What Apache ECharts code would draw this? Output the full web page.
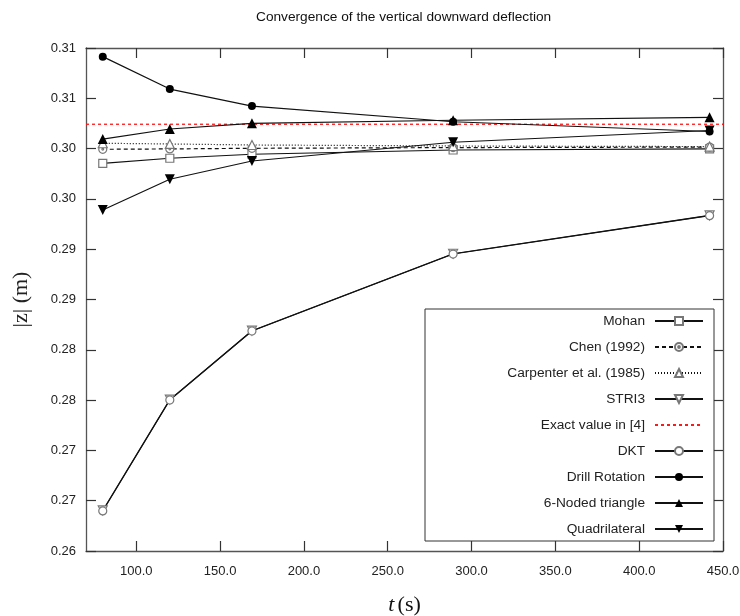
<!DOCTYPE html>
<html><head><meta charset="utf-8">
<script src="https://cdn.jsdelivr.net/npm/echarts@6/dist/echarts.min.js"></script>
<style>html,body{margin:0;padding:0;background:#fff}#c{width:740px;height:616px}</style>
</head><body><div id="c"></div>
<script>
// ---- data ----
const xValues = [80, 120, 169, 289, 442];
const mohan      = [0.29854, 0.29904, 0.29944, 0.29986, 0.29998];
const chen       = [0.29993, 0.29997, 0.30003, 0.30010, 0.30015];
const carpenter  = [0.30053, 0.30046, 0.30036, 0.30026, 0.30020];
const stri3      = [0.26403, 0.27505, 0.28190, 0.28955, 0.29336];
const exactValue = 0.30242;
const exactX     = [70, 450];
const dkt        = [0.26398, 0.27501, 0.28187, 0.28952, 0.29333];
const drill      = [0.30914, 0.30592, 0.30423, 0.30267, 0.30170];
const sixNoded   = [0.30095, 0.30195, 0.30251, 0.30282, 0.30311];
const quad       = [0.29390, 0.29695, 0.29877, 0.30063, 0.30180];

const xTickValues = [100, 150, 200, 250, 300, 350, 400, 450];
const xTickLabels = ['100.0','150.0','200.0','250.0','300.0','350.0','400.0','450.0'];
const yTickLabels = ['0.26','0.27','0.27','0.28','0.28','0.29','0.29','0.30','0.30','0.31','0.31'];

const FONT = 'Liberation Sans, Arial, sans-serif';
const SERIF = 'Liberation Serif, Times New Roman, serif';
const pair = (ys) => xValues.map((x, i) => [x, ys[i]]);
const dotCircle = 'path://M0,-5A5,5 0 1,1 0,5A5,5 0 1,1 0,-5ZM0,-1.1A1.1,1.1 0 1,1 0,1.1A1.1,1.1 0 1,1 0,-1.1Z';

function lineSeries(name, ys, symbol, opts) {
  opts = opts || {};
  return {
    name, type: 'line', data: pair(ys),
    symbol: symbol, symbolSize: opts.size || 8, symbolRotate: opts.rotate || 0,
    showSymbol: true,
    lineStyle: { color: '#111', width: 1.2, type: opts.dash || 'solid' },
    itemStyle: opts.hollow
      ? { color: '#fff', borderColor: '#777', borderWidth: 1.2 }
      : { color: '#000', borderColor: '#000', borderWidth: 0 },
    emphasis: { disabled: true },
    animation: false, z: opts.z || 3
  };
}

const series = [
  lineSeries('Mohan', mohan, 'rect', { hollow: true, size: 8 }),
  lineSeries('Chen (1992)', chen, dotCircle, { hollow: true, size: 8, dash: [4, 3] }),
  lineSeries('Carpenter et al. (1985)', carpenter, 'triangle', { hollow: true, size: 9, dash: [1, 2] }),
  lineSeries('STRI3', stri3, 'triangle', { hollow: true, size: 9, rotate: 180 }),
  {
    name: 'Exact value in [4]', type: 'line',
    data: exactX.map(x => [x, exactValue]),
    symbol: 'none', showSymbol: false,
    lineStyle: { color: '#ff1a1a', width: 1.3, type: [3, 3] },
    itemStyle: { color: 'rgba(255,255,255,0)', borderWidth: 0 },
    emphasis: { disabled: true }, animation: false, z: 2
  },
  lineSeries('DKT', dkt, 'circle', { hollow: true, size: 8 }),
  lineSeries('Drill Rotation', drill, 'circle', { size: 8 }),
  lineSeries('6-Noded triangle', sixNoded, 'triangle', { size: 10 }),
  lineSeries('Quadrilateral', quad, 'triangle', { size: 10, rotate: 180 })
];

const frame = { show: true, onZero: false, lineStyle: { color: '#555', width: 1.3 } };
const tick = { show: true, inside: true, length: 10, lineStyle: { color: '#333', width: 1.2 } };

const option = {
  backgroundColor: '#fff',
  animation: false,
  title: {
    text: 'Convergence of the vertical downward deflection',
    left: 256, top: 10, padding: 0,
    textStyle: { fontSize: 13.7, fontWeight: 'normal', color: '#111', fontFamily: FONT }
  },
  grid: { left: 86, right: 17, top: 48, bottom: 65, containLabel: false, outerBoundsMode: 'none' },
  legend: {
    orient: 'vertical', left: 425, top: 309, align: 'right',
    itemWidth: 48, itemHeight: 10, itemGap: 12, itemTextGap: 10,
    padding: [5, 10, 5, 20],
    borderColor: '#333', borderWidth: 1, backgroundColor: '#fff',
    formatter: n => '{a|' + n + '}',
    textStyle: { rich: { a: { width: 200, align: 'right', padding: [0, 5, 0, 0], fontSize: 13.7, lineHeight: 16, color: '#222', fontFamily: FONT } } },
    selectedMode: false,
    data: series.map(s => s.name)
  },
  xAxis: [
    {
      type: 'value', min: 70, max: 450, position: 'bottom',
      axisLine: frame,
      axisTick: Object.assign({}, tick, { customValues: xTickValues }),
      axisLabel: {
        customValues: xTickValues,
        formatter: v => xTickLabels[xTickValues.indexOf(Number(v))],
        margin: 14, fontSize: 13, color: '#222', fontFamily: FONT
      },
      splitLine: { show: false },
      name: '{i|t} {n|(s)}', nameLocation: 'middle', nameGap: 43,
      nameTextStyle: {
        rich: {
          i: { fontFamily: SERIF, fontStyle: 'italic', fontSize: 22, color: '#111' },
          n: { fontFamily: SERIF, fontSize: 22, color: '#111' }
        }
      }
    },
    {
      type: 'value', min: 70, max: 450, position: 'top',
      axisLine: frame,
      axisTick: Object.assign({}, tick, { customValues: xTickValues }),
      axisLabel: { show: false },
      splitLine: { show: false }
    }
  ],
  yAxis: [
    {
      type: 'value', min: 0.26, max: 0.31, interval: 0.005, position: 'left',
      axisLine: frame, axisTick: tick,
      axisLabel: {
        formatter: v => yTickLabels[Math.round((v - 0.26) / 0.005)],
        margin: 10, fontSize: 13, color: '#222', fontFamily: FONT
      },
      splitLine: { show: false },
      name: '|z| (m)', nameLocation: 'middle', nameGap: 54, nameRotate: 90,
      nameTextStyle: { fontFamily: SERIF, fontSize: 22, color: '#222' }
    },
    {
      type: 'value', min: 0.26, max: 0.31, interval: 0.005, position: 'right',
      axisLine: frame, axisTick: tick,
      axisLabel: { show: false },
      splitLine: { show: false }
    }
  ],
  series: series
};

const chart = echarts.init(document.getElementById('c'), null, { renderer: 'canvas' });
chart.setOption(option);
</script>
</body></html>
